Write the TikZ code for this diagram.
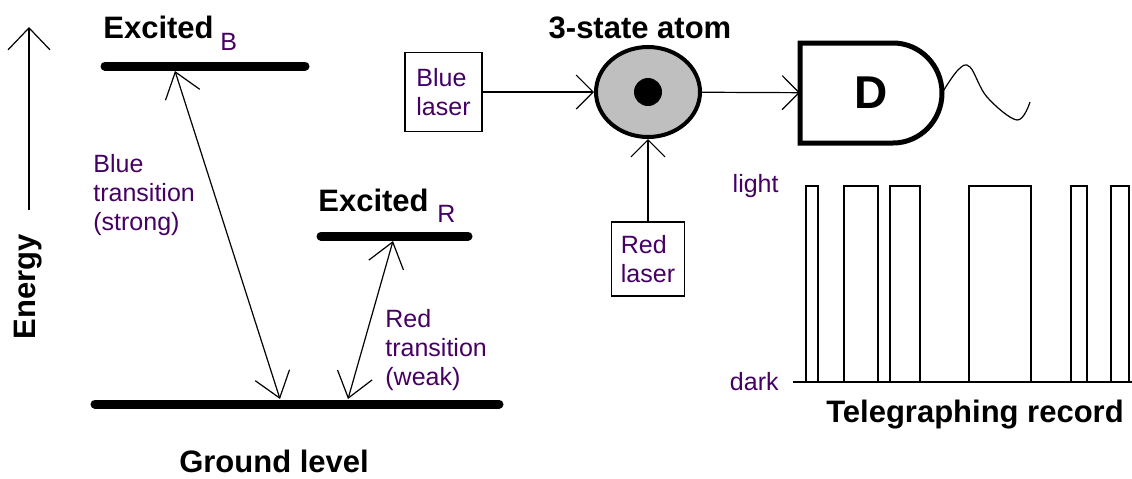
\documentclass[tikz,border=0pt]{standalone}
\usepackage{fontspec}
\setmainfont{Liberation Sans}
\usetikzlibrary{arrows.meta,shapes.geometric}
\definecolor{labelpurple}{RGB}{70,0,100}
\tikzset{
  level line/.style={line width=4.5pt,line cap=round},
  trans edge/.style={{Straight Barb[length=12pt,width=18pt]}-{Straight Barb[length=12pt,width=18pt]},line width=0.6pt},
  beam edge/.style={-{Straight Barb[length=8.5pt,width=17pt]},line width=0.6pt},
  axis edge/.style={-{Straight Barb[length=11pt,width=21pt]},line width=0.6pt},
  label text/.style={text=labelpurple,font=\fontsize{12.5}{14.5}\selectfont,align=left,inner sep=0pt},
  title text/.style={font=\bfseries\fontsize{15.5}{18}\selectfont,inner sep=0pt},
  laser box/.style={draw,line width=0.6pt,label text,inner sep=3pt},
  atom node/.style={ellipse,draw,line width=2pt,fill=gray!50,minimum width=52pt,minimum height=45pt,inner sep=0pt},
  det node/.style={rectangle,minimum width=71pt,minimum height=50pt,inner sep=0pt,outer sep=0pt,font=\bfseries\fontsize{23}{26}\selectfont},
}

\begin{document}
\begin{tikzpicture}[x=0.5pt,y=-0.5pt]
  \useasboundingbox (0,0) rectangle (1132,478);
  % energy levels
  \begin{scope}
    \coordinate (e0) at (29,210);
    \coordinate (e1) at (29,27);
    \draw[axis edge] (e0)--(e1);
    \node[title text,rotate=90] (energy) at (28,287) {Energy};
    \draw[level line] (105,66)--(305,66);
    \draw[level line] (321,236)--(468,236);
    \draw[level line] (95,404)--(499,404);
    \node[title text,anchor=base west] (exB) at (103,38) {Excited};
    \node[label text,anchor=base west] (subB) at (220,50) {B};
    \node[title text,anchor=base west] (exR) at (318,211) {Excited};
    \node[label text,anchor=base west] (subR) at (437,222) {R};
    \node[title text] (ground) at (274,461) {Ground level};
    \coordinate (bTop) at (175,71);
    \coordinate (bBot) at (280,399);
    \coordinate (rTop) at (393,241);
    \coordinate (rBot) at (348,399);
    \draw[trans edge] (bTop)--(bBot);
    \draw[trans edge] (rBot)--(rTop);
    % base anchor sits on the last line
    \node[label text,anchor=base west] (blueT) at (93,230) {Blue\\transition\\(strong)};
    \node[label text,anchor=base west] (redT) at (385,385) {Red\\transition\\(weak)};
  \end{scope}
  % atom and lasers
  \begin{scope}
    \node[title text] (atomT) at (640,28) {3-state atom};
    \node[atom node] (atom) at (648,92) {};
    \node[circle,fill=black,minimum size=14pt,inner sep=0pt] (nucleus) at (atom.center) {};
    \node[laser box,minimum width=38.5pt,minimum height=39.5pt] (blue) at (443.5,92) {Blue\\laser};
    \node[laser box,minimum width=36.5pt,minimum height=37pt] (red) at (648,259) {Red\\laser};
    \draw[beam edge] (blue)--(atom);
    \draw[beam edge] (red)--(atom);
    \node[det node] (det) at (871,93) {D};
    \draw[line width=2.5pt] (det.north west)--++(93,0) arc[start angle=-90,end angle=90,x radius=49,y radius=50]--(det.south west)--cycle;
    \draw[beam edge] (atom)--(det);
    \draw[line width=0.6pt] plot[smooth,tension=0.6] coordinates {(det.east) (958,70) (970,67) (987,97) (1017,120) (1030,102)};
  \end{scope}
  % telegraphing record
  \begin{scope}
    \node[label text,anchor=east] (light) at (779,186) {light};
    \node[label text,anchor=east] (dark) at (779,382) {dark};
    \coordinate (t0) at (793,382);
    \coordinate (t1) at (1132,382);
    \draw[line width=0.6pt] (t0)--(t1);
    \foreach \a/\b in {806/818,844/878,890/920,969/1031,1071/1087,1111/1129}{
      \draw[line width=0.6pt] (\a,382)--(\a,186)--(\b,186)--(\b,382);
    }
    \node[title text] (record) at (975,415) {Telegraphing record};
  \end{scope}
\end{tikzpicture}
\end{document}
